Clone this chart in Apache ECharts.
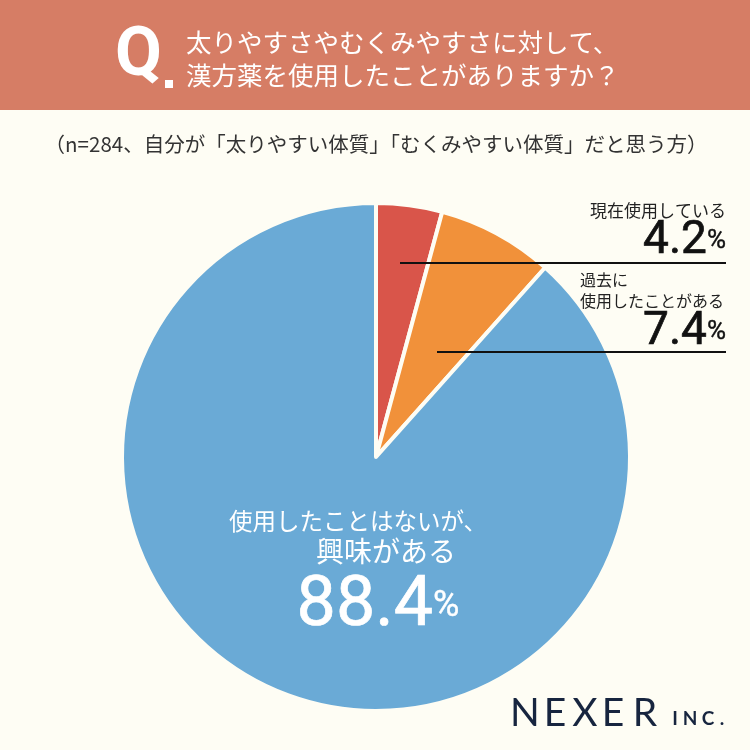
<html>
<head>
<meta charset="utf-8">
<script src="https://cdn.jsdelivr.net/npm/echarts@6/dist/echarts.min.js"></script>
<style>
  html, body { margin: 0; padding: 0; background: #fefdf4; }
  #chart { width: 750px; height: 750px; }
</style>
</head>
<body>
<div id="chart"></div>
<script>
var categories = ['現在使用している', '過去に\n使用したことがある', '使用したことはないが、\n興味がある'];
var values = [4.2, 7.4, 88.4];
var colors = ['#d9554a', '#f1913a', '#6aaad6'];

var titleLines = ['太りやすさやむくみやすさに対して、', '漢方薬を使用したことがありますか？'];
var subtitle = '（n=284、自分が「太りやすい体質」「むくみやすい体質」だと思う方）';

var font = '"Noto Sans CJK JP", "Noto Sans", sans-serif';
var numFont = 'Roboto, "Noto Sans", sans-serif';

var chart = echarts.init(document.getElementById('chart'));

function pctRich(v, big, small, color) {
    return {
        text: '{n|' + v.toFixed(1) + '}{p|%}',
        rich: {
            n: { fontSize: big, fontFamily: numFont, fill: color, stroke: color, lineWidth: 0.7 },
            p: { fontSize: small, fontFamily: numFont, fill: color, stroke: color, lineWidth: 0.4 }
        }
    };
}

// spread letters one by one (letterSpacing is not honoured)
function spaced(str, xs, y, style) {
    return str.split('').map(function (ch, i) {
        return { type: 'text', x: xs[i], y: y, z: 10,
            style: Object.assign({ text: ch, align: 'center', verticalAlign: 'middle' }, style) };
    });
}

var p0 = pctRich(values[0], 46, 26, '#111');
var p1 = pctRich(values[1], 46, 26, '#111');
var p2 = pctRich(values[2], 70, 36, '#fff');
var blueLines = categories[2].split('\n');

var logoStyle = { fontSize: 39, fontFamily: '"Lato", "Open Sans", sans-serif', fill: '#17253f' };
var incStyle = { fontSize: 19, fontWeight: 'bold', fontFamily: '"Lato", sans-serif', fill: '#17253f' };

chart.setOption({
    backgroundColor: '#fefdf4',
    animation: false,
    series: [{
        type: 'pie',
        center: [376, 457],
        radius: [0, 254],
        startAngle: 90,
        clockwise: true,
        label: { show: false },
        labelLine: { show: false },
        itemStyle: { borderColor: '#fefdf4', borderWidth: 4 },
        data: categories.map(function (c, i) {
            return { name: c, value: values[i], itemStyle: { color: colors[i] } };
        })
    }],
    graphic: [
        { type: 'rect', shape: { x: 0, y: 0, width: 750, height: 110 }, style: { fill: '#d67d65' }, z: 0 },
        { type: 'text', x: 115, y: 24, style: { text: 'Q', fontSize: 68, fontWeight: 'bold', fontFamily: 'Roboto, sans-serif', fill: '#fff' } },
        { type: 'rect', shape: { x: 165, y: 80, width: 8, height: 8 }, style: { fill: '#fff' } },
        { type: 'text', x: 186, y: 30, style: { text: titleLines[0], fontSize: 25.5, fontFamily: font, fill: '#fff' } },
        { type: 'text', x: 186, y: 63, style: { text: titleLines[1], fontSize: 25.5, fontFamily: font, fill: '#fff' } },
        { type: 'text', x: 376, y: 144, style: { text: subtitle, fontSize: 20.5, fontFamily: font, fill: '#333', align: 'center', verticalAlign: 'middle' } },

        { type: 'line', shape: { x1: 400, y1: 263, x2: 726, y2: 263 }, style: { stroke: '#111', lineWidth: 2 }, z: 10 },
        { type: 'line', shape: { x1: 437, y1: 352, x2: 726, y2: 352 }, style: { stroke: '#111', lineWidth: 2 }, z: 10 },

        { type: 'text', x: 726, y: 211, style: { text: categories[0], fontSize: 17, fontFamily: font, fill: '#222', align: 'right', verticalAlign: 'middle' }, z: 10 },
        { type: 'text', x: 726, y: 264, style: { text: p0.text, rich: p0.rich, align: 'right', verticalAlign: 'bottom' }, z: 10 },
        { type: 'text', x: 580, y: 290, style: { text: categories[1], fontSize: 16, lineHeight: 21, fontFamily: font, fill: '#222', align: 'left', verticalAlign: 'middle' }, z: 10 },
        { type: 'text', x: 726, y: 355, style: { text: p1.text, rich: p1.rich, align: 'right', verticalAlign: 'bottom' }, z: 10 },

        { type: 'text', x: 229, y: 521, style: { text: blueLines[0], fontSize: 23.5, fontFamily: font, fill: '#fff', verticalAlign: 'middle' }, z: 10 },
        { type: 'text', x: 316, y: 551, style: { text: blueLines[1], fontSize: 28, fontFamily: font, fill: '#fff', verticalAlign: 'middle' }, z: 10 },
        { type: 'text', x: 378, y: 642, style: { text: p2.text, rich: p2.rich, align: 'center', verticalAlign: 'bottom' }, z: 10 }
    ].concat(
        spaced('NEXER', [525, 555, 585, 613, 645], 713, logoStyle),
        spaced('INC.', [675, 690, 708, 722], 719, incStyle)
    )
});
</script>
</body>
</html>
